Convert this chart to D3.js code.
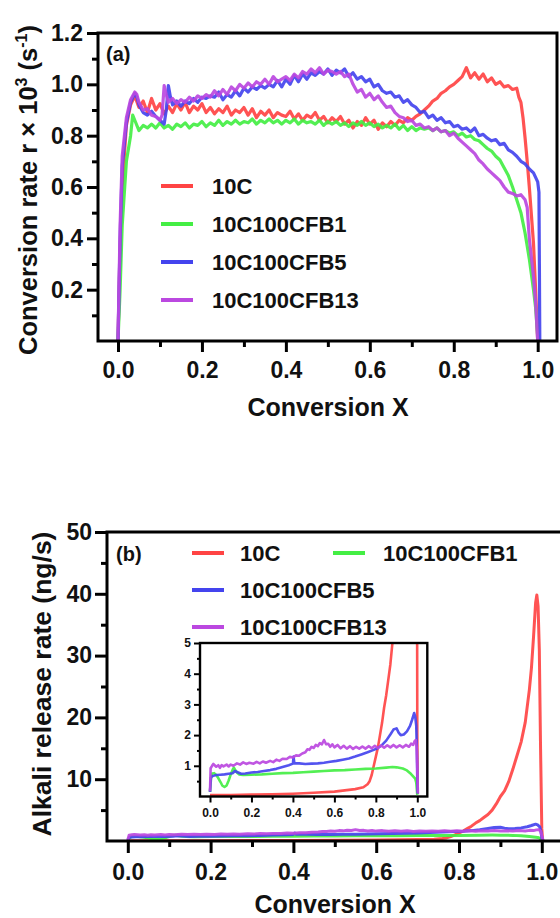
<!DOCTYPE html>
<html>
<head>
<meta charset="utf-8">
<script src="https://cdn.jsdelivr.net/npm/d3@7"></script>
<style>
  body { margin: 0; background: #fff; }
  svg text { font-family: "Liberation Sans", Arial, sans-serif; font-weight: bold; fill: #111; }
</style>
</head>
<body>
<svg id="chart" width="560" height="918"></svg>
<script>
// series labels and colours (same order in both panels)
const seriesNames = ["10C", "10C100CFB1", "10C100CFB5", "10C100CFB13"];
const seriesColors = ["#ff4444", "#44ee44", "#4444ee", "#bb48e0"];

// (a) conversion rate r x 10^3 (s^-1) against conversion X
const rate10C = [[0,0],[0.004,0.3],[0.01,0.6],[0.02,0.84],[0.03,0.92],[0.04,0.955],[0.05,0.91],[0.06,0.935],[0.07,0.89],[0.08,0.945],[0.09,0.9],[0.1,0.925],[0.11,0.885],[0.12,0.915],[0.13,0.89],[0.14,0.925],[0.15,0.9],[0.16,0.93],[0.17,0.89],[0.18,0.915],[0.19,0.9],[0.2,0.925],[0.21,0.89],[0.22,0.91],[0.23,0.885],[0.24,0.905],[0.25,0.89],[0.26,0.915],[0.27,0.88],[0.28,0.9],[0.29,0.89],[0.3,0.91],[0.31,0.88],[0.32,0.905],[0.33,0.87],[0.34,0.895],[0.35,0.88],[0.36,0.9],[0.37,0.87],[0.38,0.89],[0.39,0.88],[0.4,0.875],[0.41,0.895],[0.42,0.865],[0.43,0.885],[0.44,0.86],[0.45,0.88],[0.46,0.87],[0.47,0.89],[0.48,0.86],[0.49,0.875],[0.5,0.85],[0.51,0.87],[0.52,0.855],[0.53,0.875],[0.54,0.845],[0.55,0.86],[0.56,0.83],[0.57,0.855],[0.58,0.84],[0.59,0.87],[0.6,0.845],[0.61,0.86],[0.62,0.825],[0.63,0.85],[0.64,0.835],[0.65,0.855],[0.66,0.84],[0.67,0.86],[0.68,0.85],[0.69,0.87],[0.7,0.86],[0.71,0.875],[0.72,0.885],[0.73,0.9],[0.74,0.915],[0.75,0.935],[0.76,0.945],[0.77,0.965],[0.78,0.975],[0.79,0.99],[0.8,1.0],[0.81,1.015],[0.82,1.03],[0.83,1.065],[0.84,1.025],[0.85,1.045],[0.86,1.02],[0.87,1.04],[0.88,1.01],[0.89,1.025],[0.9,1.0],[0.91,1.01],[0.92,0.99],[0.93,0.995],[0.94,0.98],[0.95,0.985],[0.955,0.95],[0.96,0.93],[0.965,0.87],[0.97,0.79],[0.975,0.7],[0.98,0.6],[0.985,0.49],[0.99,0.38],[0.995,0.2],[1.0,0]];
const rateCFB1 = [[0,0],[0.005,0.2],[0.01,0.45],[0.02,0.7],[0.03,0.8],[0.035,0.88],[0.04,0.86],[0.05,0.82],[0.06,0.84],[0.07,0.83],[0.08,0.845],[0.09,0.83],[0.1,0.85],[0.11,0.83],[0.12,0.84],[0.13,0.825],[0.14,0.845],[0.15,0.835],[0.16,0.85],[0.17,0.83],[0.18,0.845],[0.19,0.84],[0.2,0.855],[0.21,0.835],[0.22,0.85],[0.23,0.84],[0.24,0.86],[0.25,0.84],[0.26,0.855],[0.27,0.845],[0.28,0.86],[0.29,0.845],[0.3,0.855],[0.31,0.85],[0.32,0.865],[0.33,0.845],[0.34,0.86],[0.35,0.85],[0.36,0.865],[0.37,0.85],[0.38,0.86],[0.39,0.845],[0.4,0.86],[0.41,0.85],[0.42,0.865],[0.43,0.845],[0.44,0.86],[0.45,0.85],[0.46,0.855],[0.47,0.845],[0.48,0.86],[0.49,0.84],[0.5,0.855],[0.51,0.845],[0.52,0.855],[0.53,0.84],[0.54,0.85],[0.55,0.835],[0.56,0.85],[0.57,0.84],[0.58,0.855],[0.59,0.84],[0.6,0.85],[0.61,0.835],[0.62,0.845],[0.63,0.83],[0.64,0.84],[0.65,0.83],[0.66,0.845],[0.67,0.825],[0.68,0.84],[0.69,0.82],[0.7,0.835],[0.71,0.82],[0.72,0.83],[0.73,0.825],[0.74,0.83],[0.75,0.82],[0.76,0.83],[0.77,0.815],[0.78,0.82],[0.79,0.81],[0.8,0.815],[0.81,0.8],[0.82,0.81],[0.83,0.795],[0.84,0.8],[0.85,0.785],[0.86,0.78],[0.87,0.765],[0.88,0.75],[0.89,0.74],[0.9,0.72],[0.91,0.705],[0.92,0.675],[0.93,0.645],[0.94,0.6],[0.95,0.55],[0.96,0.5],[0.97,0.42],[0.98,0.32],[0.99,0.2],[0.995,0.13],[1.0,0.02],[1.002,0]];
const rateCFB5 = [[0,0],[0.005,0.4],[0.01,0.68],[0.02,0.85],[0.03,0.93],[0.04,0.965],[0.045,0.95],[0.05,0.92],[0.06,0.89],[0.07,0.88],[0.08,0.895],[0.09,0.875],[0.1,0.86],[0.11,0.845],[0.115,0.9],[0.12,0.995],[0.125,0.95],[0.13,0.92],[0.14,0.935],[0.15,0.915],[0.16,0.935],[0.17,0.925],[0.18,0.945],[0.19,0.93],[0.2,0.95],[0.21,0.945],[0.22,0.955],[0.23,0.95],[0.24,0.97],[0.25,0.94],[0.26,0.96],[0.27,0.95],[0.28,0.975],[0.29,0.955],[0.3,0.985],[0.31,0.97],[0.32,0.99],[0.33,0.98],[0.34,0.995],[0.35,0.985],[0.36,1.0],[0.37,0.99],[0.38,1.015],[0.39,0.99],[0.4,1.02],[0.41,1.0],[0.42,1.035],[0.43,1.01],[0.44,1.04],[0.45,1.02],[0.46,1.045],[0.47,1.035],[0.48,1.05],[0.49,1.04],[0.5,1.06],[0.51,1.035],[0.52,1.055],[0.53,1.045],[0.54,1.06],[0.55,1.03],[0.56,1.045],[0.57,1.02],[0.58,1.03],[0.59,1.01],[0.6,1.02],[0.61,0.99],[0.62,1.0],[0.63,0.975],[0.64,0.965],[0.65,0.97],[0.66,0.95],[0.67,0.955],[0.68,0.93],[0.69,0.94],[0.7,0.92],[0.71,0.91],[0.72,0.89],[0.73,0.895],[0.74,0.87],[0.75,0.88],[0.76,0.86],[0.77,0.87],[0.78,0.85],[0.79,0.855],[0.8,0.835],[0.81,0.84],[0.82,0.825],[0.83,0.83],[0.84,0.815],[0.85,0.83],[0.86,0.8],[0.87,0.805],[0.88,0.79],[0.89,0.78],[0.9,0.785],[0.91,0.765],[0.92,0.77],[0.93,0.745],[0.94,0.735],[0.95,0.72],[0.96,0.7],[0.97,0.69],[0.98,0.67],[0.99,0.655],[1.0,0.62],[1.003,0.58],[1.004,0.3],[1.005,0]];
const rateCFB13 = [[0,0],[0.005,0.45],[0.01,0.72],[0.02,0.87],[0.03,0.94],[0.04,0.97],[0.045,0.96],[0.05,0.93],[0.06,0.9],[0.07,0.905],[0.08,0.88],[0.09,0.875],[0.1,0.86],[0.105,0.88],[0.11,0.995],[0.115,0.96],[0.12,0.93],[0.13,0.945],[0.14,0.925],[0.15,0.94],[0.16,0.93],[0.17,0.95],[0.18,0.935],[0.19,0.955],[0.2,0.945],[0.21,0.96],[0.22,0.95],[0.23,0.975],[0.24,0.955],[0.25,0.98],[0.26,0.96],[0.27,0.99],[0.28,0.975],[0.29,1.0],[0.3,0.985],[0.31,1.005],[0.32,0.99],[0.33,1.01],[0.34,1.0],[0.35,1.02],[0.36,1.0],[0.37,1.03],[0.38,1.01],[0.39,1.02],[0.4,1.03],[0.41,1.015],[0.42,1.04],[0.43,1.025],[0.44,1.05],[0.45,1.04],[0.46,1.06],[0.47,1.045],[0.48,1.065],[0.49,1.04],[0.5,1.055],[0.51,1.05],[0.52,1.04],[0.53,1.05],[0.54,1.03],[0.55,1.04],[0.56,1.0],[0.57,0.97],[0.58,0.98],[0.59,0.95],[0.6,0.965],[0.61,0.94],[0.62,0.955],[0.63,0.93],[0.64,0.91],[0.65,0.915],[0.66,0.89],[0.67,0.875],[0.68,0.87],[0.69,0.855],[0.7,0.86],[0.71,0.84],[0.72,0.845],[0.73,0.83],[0.74,0.835],[0.75,0.82],[0.76,0.83],[0.77,0.815],[0.78,0.82],[0.79,0.8],[0.8,0.81],[0.81,0.79],[0.82,0.775],[0.83,0.76],[0.84,0.745],[0.85,0.73],[0.86,0.705],[0.87,0.69],[0.88,0.67],[0.89,0.655],[0.9,0.64],[0.91,0.625],[0.92,0.6],[0.93,0.58],[0.94,0.575],[0.95,0.565],[0.96,0.57],[0.97,0.55],[0.975,0.52],[0.98,0.4],[0.99,0.25],[0.995,0.15],[1.0,0]];

// (b) alkali release rate (ng/s) against conversion X
const alk10C = [[0,0.05],[0.1,0.05],[0.2,0.06],[0.3,0.07],[0.4,0.09],[0.5,0.12],[0.6,0.16],[0.7,0.24],[0.74,0.3],[0.76,0.4],[0.77,0.5],[0.78,0.7],[0.79,1.0],[0.8,1.3],[0.81,1.6],[0.82,2.0],[0.83,2.4],[0.84,2.9],[0.85,3.3],[0.86,3.8],[0.87,4.3],[0.88,5.0],[0.89,6.0],[0.9,7.2],[0.91,8.1],[0.92,9.6],[0.93,11.6],[0.94,13.8],[0.95,16.0],[0.96,19.2],[0.97,24.5],[0.975,28],[0.98,33],[0.985,38.5],[0.988,39.8],[0.991,38],[0.994,31],[0.997,15],[1.0,2],[1.002,0.1]];
const alkCFB1 = [[0,0.15],[0.005,0.6],[0.01,0.75],[0.02,0.76],[0.03,0.7],[0.04,0.6],[0.05,0.48],[0.06,0.35],[0.07,0.31],[0.08,0.36],[0.09,0.52],[0.1,0.72],[0.11,0.88],[0.115,0.94],[0.12,0.88],[0.13,0.78],[0.14,0.72],[0.16,0.7],[0.2,0.71],[0.25,0.72],[0.3,0.74],[0.35,0.76],[0.4,0.77],[0.45,0.79],[0.5,0.81],[0.55,0.83],[0.6,0.85],[0.65,0.86],[0.7,0.88],[0.75,0.9],[0.8,0.91],[0.85,0.94],[0.88,0.96],[0.9,0.95],[0.93,0.91],[0.95,0.85],[0.97,0.73],[0.99,0.58],[0.995,0.45],[1.0,0.05]];
const alkCFB5 = [[0,0.15],[0.004,0.6],[0.01,0.66],[0.02,0.68],[0.03,0.7],[0.05,0.71],[0.07,0.72],[0.09,0.74],[0.11,0.76],[0.12,0.83],[0.13,0.8],[0.15,0.74],[0.17,0.75],[0.2,0.78],[0.23,0.8],[0.26,0.83],[0.29,0.86],[0.32,0.9],[0.35,0.96],[0.38,1.02],[0.4,1.07],[0.403,1.3],[0.407,1.08],[0.43,1.08],[0.46,1.06],[0.49,1.07],[0.52,1.08],[0.55,1.1],[0.58,1.13],[0.61,1.16],[0.64,1.2],[0.67,1.24],[0.7,1.3],[0.73,1.37],[0.76,1.44],[0.79,1.52],[0.81,1.58],[0.83,1.68],[0.85,1.82],[0.87,2.02],[0.885,2.18],[0.9,2.22],[0.91,2.08],[0.92,2.0],[0.935,2.02],[0.95,2.12],[0.965,2.3],[0.975,2.5],[0.985,2.72],[0.99,2.6],[0.995,2.3],[0.998,1.5],[1.0,0.5],[1.002,0.1]];
const alkCFB13 = [[0,0.17],[0.003,0.92],[0.01,1.0],[0.016,1.06],[0.03,0.97],[0.04,1.02],[0.048,0.93],[0.056,1.02],[0.065,0.98],[0.08,1.04],[0.09,0.98],[0.1,1.04],[0.113,1.0],[0.13,1.08],[0.145,1.04],[0.16,1.11],[0.175,1.06],[0.19,1.1],[0.21,1.07],[0.225,1.13],[0.24,1.08],[0.255,1.14],[0.27,1.1],[0.29,1.16],[0.305,1.12],[0.32,1.2],[0.335,1.16],[0.35,1.23],[0.37,1.22],[0.385,1.29],[0.4,1.27],[0.415,1.34],[0.43,1.33],[0.445,1.4],[0.46,1.44],[0.47,1.54],[0.48,1.52],[0.49,1.62],[0.5,1.58],[0.51,1.68],[0.52,1.64],[0.53,1.74],[0.54,1.7],[0.55,1.84],[0.56,1.7],[0.57,1.72],[0.58,1.62],[0.59,1.7],[0.6,1.6],[0.615,1.68],[0.63,1.57],[0.645,1.65],[0.66,1.56],[0.675,1.64],[0.69,1.55],[0.705,1.62],[0.72,1.56],[0.735,1.63],[0.75,1.56],[0.765,1.64],[0.78,1.57],[0.795,1.65],[0.81,1.58],[0.825,1.66],[0.84,1.59],[0.855,1.67],[0.87,1.6],[0.885,1.68],[0.9,1.6],[0.915,1.67],[0.93,1.6],[0.945,1.68],[0.96,1.62],[0.97,1.72],[0.98,1.68],[0.987,1.8],[0.993,1.84],[0.997,1.6],[1.0,0.9],[1.003,0.1]];

// tick values
const xTicks = [0, 0.2, 0.4, 0.6, 0.8, 1.0];
const xMinor = [0.1, 0.3, 0.5, 0.7, 0.9];
const rateTicks = [0.2, 0.4, 0.6, 0.8, 1.0, 1.2];
const rateMinor = [0.1, 0.3, 0.5, 0.7, 0.9, 1.1];
const alkTicks = [10, 20, 30, 40, 50];
const alkMinor = [5, 15, 25, 35, 45];
const insetTicks = [1, 2, 3, 4, 5];
const insetMinor = [0.5, 1.5, 2.5, 3.5, 4.5];

const svg = d3.select("#chart");
let clipId = 0;

function drawAxes(g, x, y, box, s) {
    const bottom = g.append("g").attr("transform", `translate(0,${box.bottom})`);
    bottom.call(d3.axisBottom(x).tickValues(s.xTicks).tickSize(s.major).tickPadding(s.xPad).tickFormat(d3.format(".1f")));
    bottom.append("g").call(d3.axisBottom(x).tickValues(s.xMinor).tickSize(s.minor).tickFormat(""));

    const left = g.append("g").attr("transform", `translate(${box.left},0)`);
    left.call(d3.axisLeft(y).tickValues(s.yTicks).tickSize(s.major).tickPadding(s.yPad).tickFormat(s.yFormat));
    left.append("g").call(d3.axisLeft(y).tickValues(s.yMinor).tickSize(s.minor).tickFormat(""));

    [bottom, left].forEach(a => {
        a.selectAll(".domain").remove();
        a.selectAll(".tick line").attr("stroke", "#000").attr("stroke-width", s.tickWidth);
        a.selectAll(".tick text").style("font-size", `${s.font}px`);
    });
}

function drawFrame(g, box, width) {
    g.append("rect")
        .attr("x", box.left).attr("y", box.top)
        .attr("width", box.right - box.left).attr("height", box.bottom - box.top)
        .attr("fill", "none").attr("stroke", "#000").attr("stroke-width", width);
}

function drawSeries(g, x, y, box, list, width) {
    const id = `clip${clipId++}`;
    g.append("clipPath").attr("id", id).append("rect")
        .attr("x", box.left).attr("y", box.top)
        .attr("width", box.right - box.left).attr("height", box.bottom - box.top);
    const line = d3.line().x(d => x(d[0])).y(d => y(d[1]));
    g.append("g").attr("clip-path", `url(#${id})`)
        .selectAll("path").data(list).join("path")
        .attr("d", line)
        .attr("fill", "none")
        .attr("stroke", (d, i) => seriesColors[i])
        .attr("stroke-opacity", 0.92)
        .attr("stroke-width", width)
        .attr("stroke-linejoin", "round");
}

function legendRow(g, i, lx, ly, tx) {
    g.append("line").attr("x1", lx).attr("x2", lx + 32).attr("y1", ly).attr("y2", ly)
        .attr("stroke", seriesColors[i]).attr("stroke-width", 4);
    g.append("text").attr("x", tx).attr("y", ly + 8).style("font-size", "22px").text(seriesNames[i]);
}

// ---------- panel (a) ----------
const boxA = { left: 98, right: 557, top: 33, bottom: 341 };
const xA = d3.scaleLinear().domain([0, 1]).range([118, 537.7]);
const yA = d3.scaleLinear().domain([0, 1.2]).range([341, 33]);
const gA = svg.append("g");

drawSeries(gA, xA, yA, boxA, [rate10C, rateCFB1, rateCFB5, rateCFB13], 3.2);
drawAxes(gA, xA, yA, boxA, {
    xTicks, xMinor, yTicks: rateTicks, yMinor: rateMinor, yFormat: d3.format(".1f"),
    major: 11, minor: 6, xPad: 10, yPad: 4, tickWidth: 3, font: 23
});
drawFrame(gA, boxA, 3);

gA.append("text").attr("x", 106).attr("y", 61).style("font-size", "20px").text("(a)");
[186, 224, 262, 300].forEach((ly, i) => legendRow(gA, i, 161, ly, 212));

gA.append("text").attr("x", 328).attr("y", 416).attr("text-anchor", "middle")
    .style("font-size", "25px").text("Conversion X");

const titleA = gA.append("text").attr("transform", "translate(37,190) rotate(-90)")
    .attr("text-anchor", "middle").style("font-size", "25.5px");
titleA.append("tspan").text("Conversion rate r × 10");
titleA.append("tspan").attr("dy", -10).style("font-size", "16px").text("3");
titleA.append("tspan").attr("dy", 10).text(" (s");
titleA.append("tspan").attr("dy", -10).style("font-size", "16px").text("-1");
titleA.append("tspan").attr("dy", 10).text(")");

// ---------- panel (b) ----------
const boxB = { left: 107, right: 563, top: 532, bottom: 841 };
const xB = d3.scaleLinear().domain([0, 1]).range([127.8, 541.8]);
const yB = d3.scaleLinear().domain([0, 50]).range([841, 532]);
const gB = svg.append("g");
const alkSeries = [alk10C, alkCFB1, alkCFB5, alkCFB13];

drawSeries(gB, xB, yB, boxB, alkSeries, 3);
drawAxes(gB, xB, yB, boxB, {
    xTicks, xMinor, yTicks: alkTicks, yMinor: alkMinor, yFormat: d3.format("d"),
    major: 12, minor: 6, xPad: 11, yPad: 3, tickWidth: 3, font: 23
});
drawFrame(gB, boxB, 3);

gB.append("text").attr("x", 116).attr("y", 561).style("font-size", "20px").text("(b)");
legendRow(gB, 0, 192, 553, 240);
legendRow(gB, 1, 333, 553, 383);
legendRow(gB, 2, 192, 590, 240);
legendRow(gB, 3, 192, 627, 240);

gB.append("text").attr("x", 335).attr("y", 913).attr("text-anchor", "middle")
    .style("font-size", "25px").text("Conversion X");
gB.append("text").attr("transform", "translate(51,684) rotate(-90)")
    .attr("text-anchor", "middle").style("font-size", "26.5px").text("Alkali release rate (ng/s)");

// inset: zoom on 0-5 ng/s
const boxI = { left: 200, right: 427.3, top: 643, bottom: 796.5 };
const xI = d3.scaleLinear().domain([0, 1]).range([210, 417.3]);
const yI = d3.scaleLinear().domain([0, 5]).range([796.5, 643]);
const gI = svg.append("g");
gI.append("rect").attr("x", boxI.left).attr("y", boxI.top)
    .attr("width", boxI.right - boxI.left).attr("height", boxI.bottom - boxI.top).attr("fill", "#fff");
drawSeries(gI, xI, yI, boxI, alkSeries, 2.6);
drawAxes(gI, xI, yI, boxI, {
    xTicks, xMinor, yTicks: insetTicks, yMinor: insetMinor, yFormat: d3.format("d"),
    major: 6, minor: 3, xPad: 6, yPad: 3, tickWidth: 2, font: 12
});
drawFrame(gI, boxI, 2.4);
</script>
</body>
</html>
